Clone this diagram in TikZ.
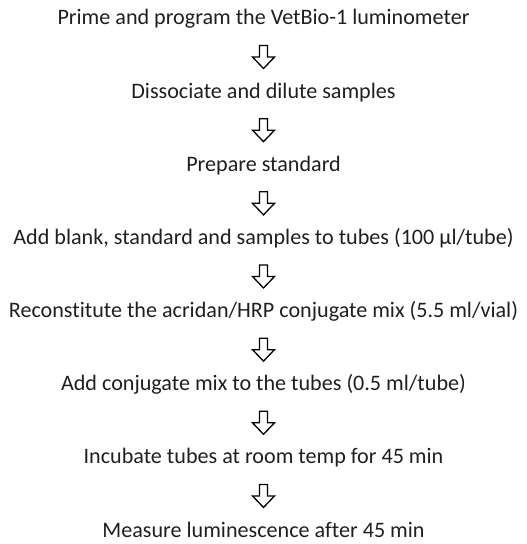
\documentclass[tikz,border=0pt]{standalone}
\usepackage{fontspec}
\setmainfont{Carlito}[Ligatures={NoCommon}]
\usetikzlibrary{calc}
\tikzset{
  steptext/.style={font=\fontsize{22.2}{24}\selectfont, text=black!88, inner sep=0pt, anchor=base},
  downarr/.pic={
    \draw[line width=1.3bp, fill=white, line join=miter]
      (-4,-11.5) -- (4,-11.5) -- (4,0) -- (11,0) -- (0,11.5) -- (-11,0) -- (-4,0) -- cycle;
  }
}
\begin{document}
\begin{tikzpicture}[x=1bp,y=-1bp]
\useasboundingbox (0,0) rectangle (527,544);
\node[steptext] (s1) at (263.5,25) {Prime and program the VetBio-1 luminometer};
\node[steptext] (s2) at (263.5,98.1) {Dissociate and dilute samples};
\node[steptext] (s3) at (263.5,171.3) {Prepare standard};
\node[steptext] (s4) at (263.5,244.4) {Add blank, standard and samples to tubes (100 µl/tube)};
\node[steptext] (s5) at (263.5,317.6) {Reconstitute the acridan/HRP conjugate mix (5.5 ml/vial)};
\node[steptext] (s6) at (263.5,390.7) {Add conjugate mix to the tubes (0.5 ml/tube)};
\node[steptext] (s7) at (263.5,463.9) {Incubate tubes at room temp for 45 min};
\node[steptext] (s8) at (263.5,537) {Measure luminescence after 45 min};
\foreach \a/\b in {s1/s2,s2/s3,s3/s4,s4/s5,s5/s6,s6/s7,s7/s8}{
  \coordinate (m-\a) at ($(\a.base)!0.5!(\b.base)$);
  \pic at ([yshift=4.5bp]m-\a) {downarr};
}
\end{tikzpicture}
\end{document}
